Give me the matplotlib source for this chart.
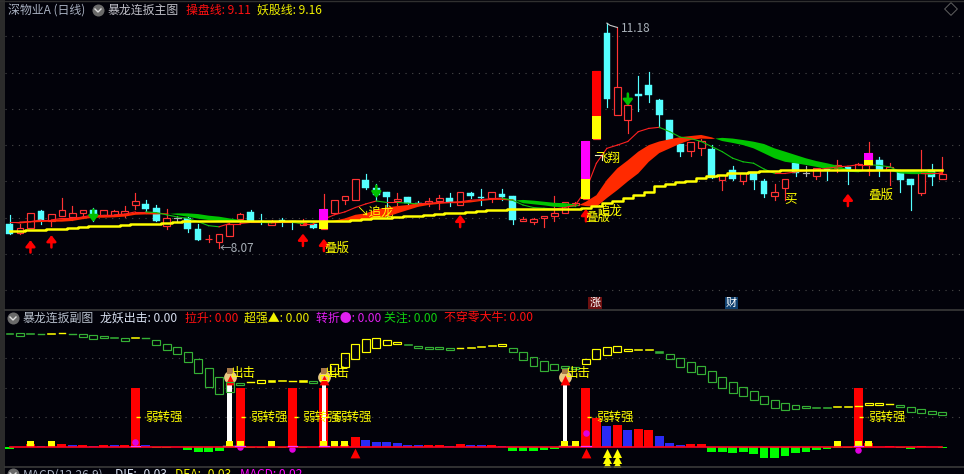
import numpy as np
import matplotlib; matplotlib.use("Agg"); import matplotlib.pyplot as plt
from matplotlib.patches import Rectangle

plt.rcParams['font.family'] = ['Noto Sans CJK SC', 'DejaVu Sans']

# candles
opens = [8.42,8.29,8.36,8.59,8.45,8.53,8.51,8.56,8.61,8.54,8.54,8.55,8.68,8.69,8.63,8.39,8.49,8.49,8.34,8.20,
         8.16,8.25,8.48,8.58,8.45,8.40,8.46,8.45,8.40,8.41,8.34,8.56,8.74,8.75,9.02,8.91,8.85,8.73,8.79,8.70,
         8.70,8.73,8.77,8.67,8.84,8.79,8.77,8.83,8.80,8.45,8.44,8.49,8.52,8.57,8.67,8.76,9.58,11.04,9.91,9.84,
         10.20,10.33,10.12,9.85,9.52,9.42,9.46,9.45,9.02,9.16,9.00,9.13,9.01,8.80,8.91,9.25,9.12,9.07,9.17,9.18,
         9.20,9.16,9.23,9.29,9.16,9.13,9.03,8.84,9.16,9.03]
closes = [8.28,8.36,8.56,8.45,8.55,8.60,8.57,8.60,8.54,8.60,8.59,8.59,8.73,8.62,8.45,8.49,8.49,8.34,8.19,8.21,
          8.28,8.42,8.55,8.45,8.44,8.45,8.45,8.44,8.43,8.36,8.62,8.75,8.80,9.03,8.91,8.81,8.78,8.76,8.70,8.68,
          8.73,8.77,8.72,8.85,8.80,8.77,8.85,8.79,8.47,8.48,8.48,8.53,8.57,8.71,8.70,9.56,10.52,10.14,10.30,10.05,
          10.18,10.19,9.91,9.57,9.40,9.54,9.55,9.04,9.09,9.03,9.12,9.02,8.83,8.86,9.03,9.12,9.12,9.18,9.16,9.22,
          9.16,9.24,9.39,9.16,9.20,9.02,8.95,9.13,9.06,9.10]
highs = [8.54,8.42,8.56,8.61,8.55,8.77,8.66,8.60,8.63,8.60,8.61,8.66,8.84,8.74,8.67,8.62,8.52,8.51,8.42,8.26,
         8.28,8.42,8.56,8.61,8.55,8.47,8.49,8.45,8.48,8.45,8.83,8.75,8.80,9.03,9.10,8.96,8.85,8.84,8.79,8.73,
         8.77,8.81,8.84,8.86,8.86,8.90,8.85,8.90,8.80,8.51,8.49,8.53,8.80,8.71,8.72,9.56,10.52,11.18,11.12,10.21,
         10.45,10.51,10.14,9.85,9.52,9.54,9.59,9.50,9.09,9.21,9.12,9.13,9.03,8.96,9.03,9.25,9.21,9.18,9.18,9.29,
         9.20,9.25,9.54,9.34,9.25,9.16,9.03,9.43,9.24,9.34]
lows = [8.28,8.28,8.36,8.42,8.39,8.53,8.47,8.49,8.45,8.54,8.54,8.51,8.62,8.57,8.45,8.35,8.45,8.30,8.19,8.16,
        8.08,8.25,8.42,8.45,8.42,8.40,8.39,8.34,8.40,8.36,8.34,8.56,8.69,8.75,8.89,8.74,8.51,8.67,8.67,8.67,
        8.66,8.62,8.66,8.67,8.77,8.67,8.72,8.74,8.41,8.45,8.41,8.37,8.46,8.57,8.66,8.76,9.58,10.02,9.91,9.66,
        9.97,10.09,9.75,9.57,9.35,9.35,9.37,9.04,8.88,9.02,8.96,8.90,8.79,8.74,8.74,9.07,9.07,9.03,9.02,9.13,
        8.96,9.14,9.09,9.07,8.95,8.85,8.61,8.81,8.95,9.03]

# yaogu line (yellow)
yaogu = [8.32,8.32,8.33,8.33,8.34,8.34,8.36,8.37,8.38,8.39,8.39,8.40,8.41,8.42,8.42,8.43,8.44,8.45,8.45,8.45,
         8.45,8.45,8.45,8.45,8.45,8.45,8.45,8.45,8.45,8.45,8.45,8.45,8.46,8.47,8.48,8.49,8.50,8.51,8.52,8.53,
         8.54,8.55,8.56,8.57,8.58,8.59,8.60,8.61,8.62,8.62,8.62,8.62,8.62,8.62,8.62,8.64,8.66,8.70,8.73,8.77,
         8.81,8.86,8.93,8.97,8.99,9.01,9.04,9.07,9.09,9.11,9.12,9.13,9.14,9.14,9.16,9.16,9.16,9.16,9.16,9.16,
         9.16,9.16,9.16,9.16,9.16,9.16,9.16,9.16,9.16,9.16]
# caopan band, fast against slow
band_fast = [8.425,8.44,8.455,8.46,8.47,8.48,8.49,8.515,8.525,8.54,8.54,8.55,8.57,8.58,8.57,8.56,8.537,8.514,8.487,8.468,
             8.455,8.455,8.445,8.44,8.436,8.436,8.43,8.43,8.436,8.425,8.445,8.46,8.49,8.54,8.56,8.615,8.64,8.66,8.675,8.70,
             8.70,8.71,8.72,8.72,8.735,8.745,8.765,8.765,8.755,8.70,8.685,8.67,8.65,8.645,8.65,8.72,8.81,9.02,9.18,9.29,
             9.41,9.50,9.55,9.58,9.61,9.625,9.64,9.607,9.556,9.53,9.50,9.455,9.387,9.318,9.27,9.25,9.226,9.20,9.17,9.18,
             9.134,9.125,9.166,9.157,9.148,9.11,9.10,9.10,9.09,9.134]
band_slow = [8.435,8.42,8.435,8.44,8.445,8.445,8.455,8.48,8.50,8.50,8.505,8.515,8.54,8.545,8.545,8.55,8.56,8.56,8.55,8.528,
             8.514,8.49,8.47,8.455,8.445,8.42,8.436,8.436,8.41,8.44,8.435,8.445,8.46,8.46,8.47,8.49,8.51,8.56,8.605,8.65,
             8.675,8.69,8.70,8.70,8.71,8.73,8.745,8.745,8.735,8.745,8.735,8.72,8.705,8.70,8.685,8.66,8.65,8.77,8.88,9.00,
             9.11,9.27,9.39,9.455,9.52,9.57,9.59,9.584,9.60,9.59,9.57,9.547,9.515,9.455,9.41,9.364,9.318,9.28,9.25,9.217,
             9.166,9.157,9.134,9.14,9.171,9.157,9.148,9.134,9.134,9.10]
# thin short line
thin_ma = [8.44,8.44,8.445,8.47,8.47,8.49,8.49,8.51,8.54,8.54,8.54,8.55,8.58,8.58,8.57,8.54,8.51,8.49,8.445,8.39,
           8.375,8.42,8.42,8.435,8.435,8.43,8.435,8.435,8.42,8.42,8.48,8.54,8.58,8.64,8.69,8.73,8.71,8.71,8.70,8.69,
           8.70,8.71,8.71,8.72,8.74,8.75,8.76,8.77,8.74,8.675,8.64,8.63,8.62,8.64,8.675,8.88,9.25,9.455,9.50,9.55,
           9.685,9.73,9.745,9.685,9.61,9.59,9.55,9.48,9.41,9.32,9.27,9.25,9.17,9.11,9.11,9.13,9.15,9.16,9.18,9.20,
           9.21,9.23,9.23,9.22,9.20,9.13,9.12,9.11,9.11,9.11]

# limit-up overlay bars
limit_idx = [30,55,56,82]
limit_low = [8.34,8.76,9.58,9.23]
limit_mid = [8.45,9.03,9.90,9.29]
limit_top = [8.62,9.56,10.52,9.39]

up_arrow_idx = [2,4,28,30,43,55,80]
up_arrow_tip = [8.19,8.26,8.28,8.21,8.54,8.62,8.83]
down_arrow_idx = [8,35,59]
down_arrow_tip = [8.44,8.77,10.04]

price_grid = [7.5,8,8.5,9,9.5,10,10.5,11]

# sub chart candles
sub_open = [343,341,341,338,338,340,338,338,335,332,329,326,326,326,320,308,299,284,263,236,
            209,194,191,193,193,196,197,196,196,197,200,218,239,263,284,296,305,308,308,302,
            299,299,296,295,296,299,302,302,296,284,269,257,248,242,239,248,263,275,284,287,
            290,290,287,278,266,254,242,227,209,194,179,167,152,140,131,125,122,119,119,119,
            119,121,125,125,127,125,119,113,107,104]
sub_close = [340,334,338,337,341,341,337,331,325,326,326,317,329,325,305,290,278,254,221,179,
             158,166,185,194,200,200,200,197,200,191,216,248,281,308,323,326,320,314,305,296,
             293,293,290,296,299,302,305,308,284,260,242,227,230,236,233,263,293,299,302,293,
             293,293,283,263,241,226,218,196,176,161,152,140,128,116,110,113,116,116,116,122,
             122,122,131,131,128,119,104,101,98,95]
# sub chart volume-like bars
hist = [-7,0,9,3,0,9,6,6,3,6,6,6,177,6,-3,-3,0,-10,-16,-16,
        -13,0,177,-3,-3,0,-3,177,-3,0,177,0,6,30,21,15,15,12,6,6,
        6,6,3,9,6,6,6,3,-13,-13,-13,-10,-7,0,0,177,86,63,66,51,
        54,51,33,12,6,9,9,-16,-16,-19,-16,-22,-32,-32,-26,-19,-16,-10,-7,-3,
        -3,177,12,0,3,-3,-6,3,0,-3]
hist_blue = [3,6,8,10,13,34,35,36,37,38,39,42,44,45,47,57,59,62,63,64]
yellow_idx = [2,4,21,22,25,30,31,32,53,54,79,81,82]
yellow_h = 18
white_idx = [21,30,53]
white_top = [194,186,186]
chu_ji_idx = [21,30,53]
tri_idx = [33,55]
stack_idx = [57,58]
stack_v = [-19,-36,-52]
ruo_idx = [12,22,27,30,55,81]
dot_idx = [12,22,27,55,81]
dot_v = [15,0,-6,43,-8]
sub_grid = [266,177,89]

BG = "#02020a"
RED = "#ff3333"
CYAN = "#54ffff"
YEL = "#ffff00"
W, H = 964, 474
X0, DX = 9.5, 10.48
x = np.arange(len(opens))
xlim = ((5-X0)/DX, (W-X0)/DX)

fig = plt.figure(figsize=(W/100, H/100), dpi=100, facecolor=BG)
def panel(top, bot):
    a = fig.add_axes([5/W, 1-bot/H, (W-5)/W, (bot-top)/H], facecolor=BG)
    a.set_xlim(*xlim); a.axis("off")
    return a
ax = panel(0, 310)
ax.set_ylim(8-56/72.6, 8+254/72.6)
sub = panel(310, 467)
sub.set_ylim(-60, 411)
ui = fig.add_axes([0, 0, 1, 1]); ui.set_xlim(0, W); ui.set_ylim(H, 0); ui.axis("off"); ui.patch.set_alpha(0)

# --- main panel
for g in price_grid:
    ax.axhline(g, color="#4a4a4a", lw=.8, ls=(0, (1, 5)), zorder=1)
bw = .64
for i in x:
    o, c, h, l = opens[i], closes[i], highs[i], lows[i]
    top, bot = max(o, c), min(o, c)
    if c > o:
        ax.plot([i, i], [top, h], color=RED, lw=.85, zorder=2)
        ax.plot([i, i], [l, bot], color=RED, lw=.85, zorder=2)
        ax.add_patch(Rectangle((i-bw/2, bot), bw, top-bot, fc=BG, ec=RED, lw=.85, zorder=2))
    elif c < o:
        ax.plot([i, i], [l, h], color=CYAN, lw=.85, zorder=2)
        ax.add_patch(Rectangle((i-bw/2, bot), bw, max(top-bot, .012), fc=CYAN, ec=CYAN, lw=.3, zorder=2))
    else:
        ax.plot([i, i], [l, h], color="#b0b0b0", lw=.85, zorder=2)
        ax.plot([i-bw/2, i+bw/2], [o, o], color="#b0b0b0", lw=.85, zorder=2)

fast, slow = np.array(band_fast), np.array(band_slow)
ax.fill_between(x, fast, slow, where=fast >= slow, interpolate=True, color="#ff2a00", lw=0, zorder=3)
ax.fill_between(x, fast, slow, where=fast < slow, interpolate=True, color="#00c400", lw=0, zorder=3)
for i in x[:-1]:
    ax.plot([i, i+1], thin_ma[i:i+2], color="#ff2020" if thin_ma[i+1] >= thin_ma[i] else "#10c010", lw=.8, zorder=3.5)
for i, lo, mid, tp in zip(limit_idx, limit_low, limit_mid, limit_top):
    ax.bar(i, mid-lo, bottom=lo, width=.86, color=YEL, zorder=4)
    ax.bar(i, tp-mid, bottom=mid, width=.86, color="#ff0000" if i == 56 else "#ff00ff", zorder=4)
ax.step(x, yaogu, where="mid", color=YEL, lw=1.8, zorder=5)

arrow_style = "-|>,head_width=.28,head_length=.36"
for i, t in zip(up_arrow_idx, up_arrow_tip):
    ax.annotate("", xy=(i, t), xytext=(i, t-.17), zorder=6,
                arrowprops=dict(arrowstyle=arrow_style, color="#ff0000", lw=1.8, shrinkA=0, shrinkB=0))
for i, t in zip(down_arrow_idx, down_arrow_tip):
    ax.annotate("", xy=(i, t), xytext=(i, t+.17), zorder=6,
                arrowprops=dict(arrowstyle=arrow_style, color="#00c000", lw=1.8, shrinkA=0, shrinkB=0))

def lab(a, i, y, s, c=YEL, fs=9, ha="center"):
    a.text(i, y, s, color=c, fontsize=fs, ha=ha, va="center", zorder=7)
lab(ax, 31.2, 8.08, "叠版")
lab(ax, 34.9, 8.58, "↘追龙")
lab(ax, 57.3, 8.59, "追龙")
lab(ax, 56.1, 8.50, "叠版")
lab(ax, 57.1, 9.32, "飞翔")
ax.plot([55.9, 56.5, 56.5], [9.36, 9.36, 9.30], color="#f0f0c0", lw=.8, zorder=7)
lab(ax, 74.5, 8.76, "买")
lab(ax, 83.1, 8.81, "叠版")
lab(ax, 20.0, 8.07, "←8.07", "#a8b0b8", 8.5, "left")
ax.plot([57, 57.3, 58], [11.18, 11.15, 11.12], color="#c8c8c8", lw=.8, zorder=7)
lab(ax, 58.3, 11.10, "11.18", "#a8b0b8", 8.5, "left")
ax.text(55.9, 7.325, "涨", color="white", fontsize=8, ha="center", va="center", zorder=7,
        bbox=dict(fc="#6e1010", ec="none", boxstyle="square,pad=0.12"))
ax.text(68.9, 7.325, "财", color="white", fontsize=8, ha="center", va="center", zorder=7,
        bbox=dict(fc="#10406e", ec="none", boxstyle="square,pad=0.12"))

# --- sub panel
for g in sub_grid:
    sub.axhline(g, color="#4a4a4a", lw=.8, ls=(0, (1, 5)), zorder=1)
for i in x:
    v = hist[i]
    if v == 0:
        continue
    w = .86 if v > 100 else .84
    col = "#00ff00" if v < 0 else ("#2a2af5" if i in hist_blue else "#ff0000")
    sub.bar(i, v, width=w, color=col, zorder=2)
for i, t in zip(white_idx, white_top):
    sub.bar(i, t, width=.44, color="white", zorder=3)
for i in white_idx[::2]:
    sub.plot([i-.6, i+.6], [2, 2], color="white", lw=1, zorder=3)
sub.bar(yellow_idx, [yellow_h]*len(yellow_idx), width=.66, color=YEL, zorder=4)
sub.plot([x[0], x[-1]], [-1, -1], color="#ff0020", lw=1.2, zorder=5)
sub.scatter(dot_idx, dot_v, s=22, color="#e000e0", zorder=3, lw=0)
for i in ruo_idx:
    sub.plot([i-.45, i+.45], [4, 4], color="#ff30ff", lw=.9, zorder=5)

for i in x:
    o, c = sub_open[i], sub_close[i]
    top, bot = max(o, c), min(o, c)
    col = "#ffff00" if c > o else "#35b035"
    if top-bot <= 1:
        sub.plot([i-bw/2, i+bw/2], [top, top], color=col, lw=1, zorder=6)
    elif top-bot <= 4:
        sub.add_patch(Rectangle((i-bw/2-.06, bot), bw+.12, top-bot, fc=col, ec=col, lw=.4, zorder=6))
    else:
        sub.add_patch(Rectangle((i-bw/2-.06, bot), bw+.12, top-bot, fc="none", ec=col, lw=.85, zorder=6))

sub.scatter(chu_ji_idx, [211]*3, s=85, color="#e8c884", lw=0, zorder=5)
sub.scatter(chu_ji_idx, [228]*3, s=22, marker="s", color="#a87848", lw=0, zorder=5.2)
sub.scatter(chu_ji_idx, [200]*3, s=50, marker="^", color="#ff0000", lw=0, zorder=5.5)
for i in chu_ji_idx:
    lab(sub, i+1.3, 222, "出击")
for i in ruo_idx:
    sub.plot([i+.1, i+.95], [89, 89], color=YEL, lw=1, ls=(0, (3, 3)), zorder=7)
    lab(sub, i+.95, 89, "弱转强", ha="left")
sub.scatter(tri_idx, [-19]*2, s=50, marker="^", color="#ff0000", lw=0, zorder=6)
for i in stack_idx:
    sub.scatter([i]*3, stack_v, s=42, marker="^", color=YEL, lw=0, zorder=6)

# --- chrome, headers
ui.add_patch(Rectangle((0, 0), 5, H, fc="#2b2b2b", ec="none"))
ui.plot([0, W], [.5, .5], color="#303030", lw=1)
ui.plot([5, W], [310, 310], color="#3a3a3a", lw=1.2)
ui.plot([5, W], [467, 467], color="#3a3a3a", lw=1.2)
ui.scatter([951], [9], s=42, marker="D", facecolor="none", edgecolor="#606060", lw=.7)
for cx, cy in [(98, 10), (13, 318), (13, 474)]:
    ui.scatter([cx], [cy], s=75, color="#6a6a6a", lw=0)
    ui.plot([cx-3, cx, cx+3], [cy-1, cy+2, cy-1], color="#e0e0e0", lw=1)

def head(px, py, s, c, fs=8.6):
    ui.text(px, py, s, color=c, fontsize=fs, ha="left", va="center")
head(8, 10, "深物业A (日线)", "#a8b0c0")
head(108, 10, "暴龙连扳主图", "#c0c0c8")
head(186, 10, "操盘线: 9.11", "#ff1010")
head(257, 10, "妖股线: 9.16", "#f0f000")
head(23, 318, "暴龙连扳副图", "#b8c0cc")
head(100, 318, "龙妖出击: 0.00", "#d8e0f0")
head(185, 318, "拉升: 0.00", "#ff1010")
head(244, 318, "超强▲: 0.00", "#f0f000")
head(316, 318, "转折●: 0.00", "#e020f0")
head(384, 318, "关注: 0.00", "#10d010")
head(444, 318, "不穿零大牛: 0.00", "#ff1010")
head(23, 475, "MACD(12,26,9)", "#a8b0c0")
head(115, 475, "DIF: -0.03", "#d8e0f0")
head(175, 475, "DEA: -0.03", "#f0f000")
head(240, 475, "MACD: 0.02", "#ff00ff")

fig.savefig("out.png", dpi=100, facecolor=BG)
plt.close()
